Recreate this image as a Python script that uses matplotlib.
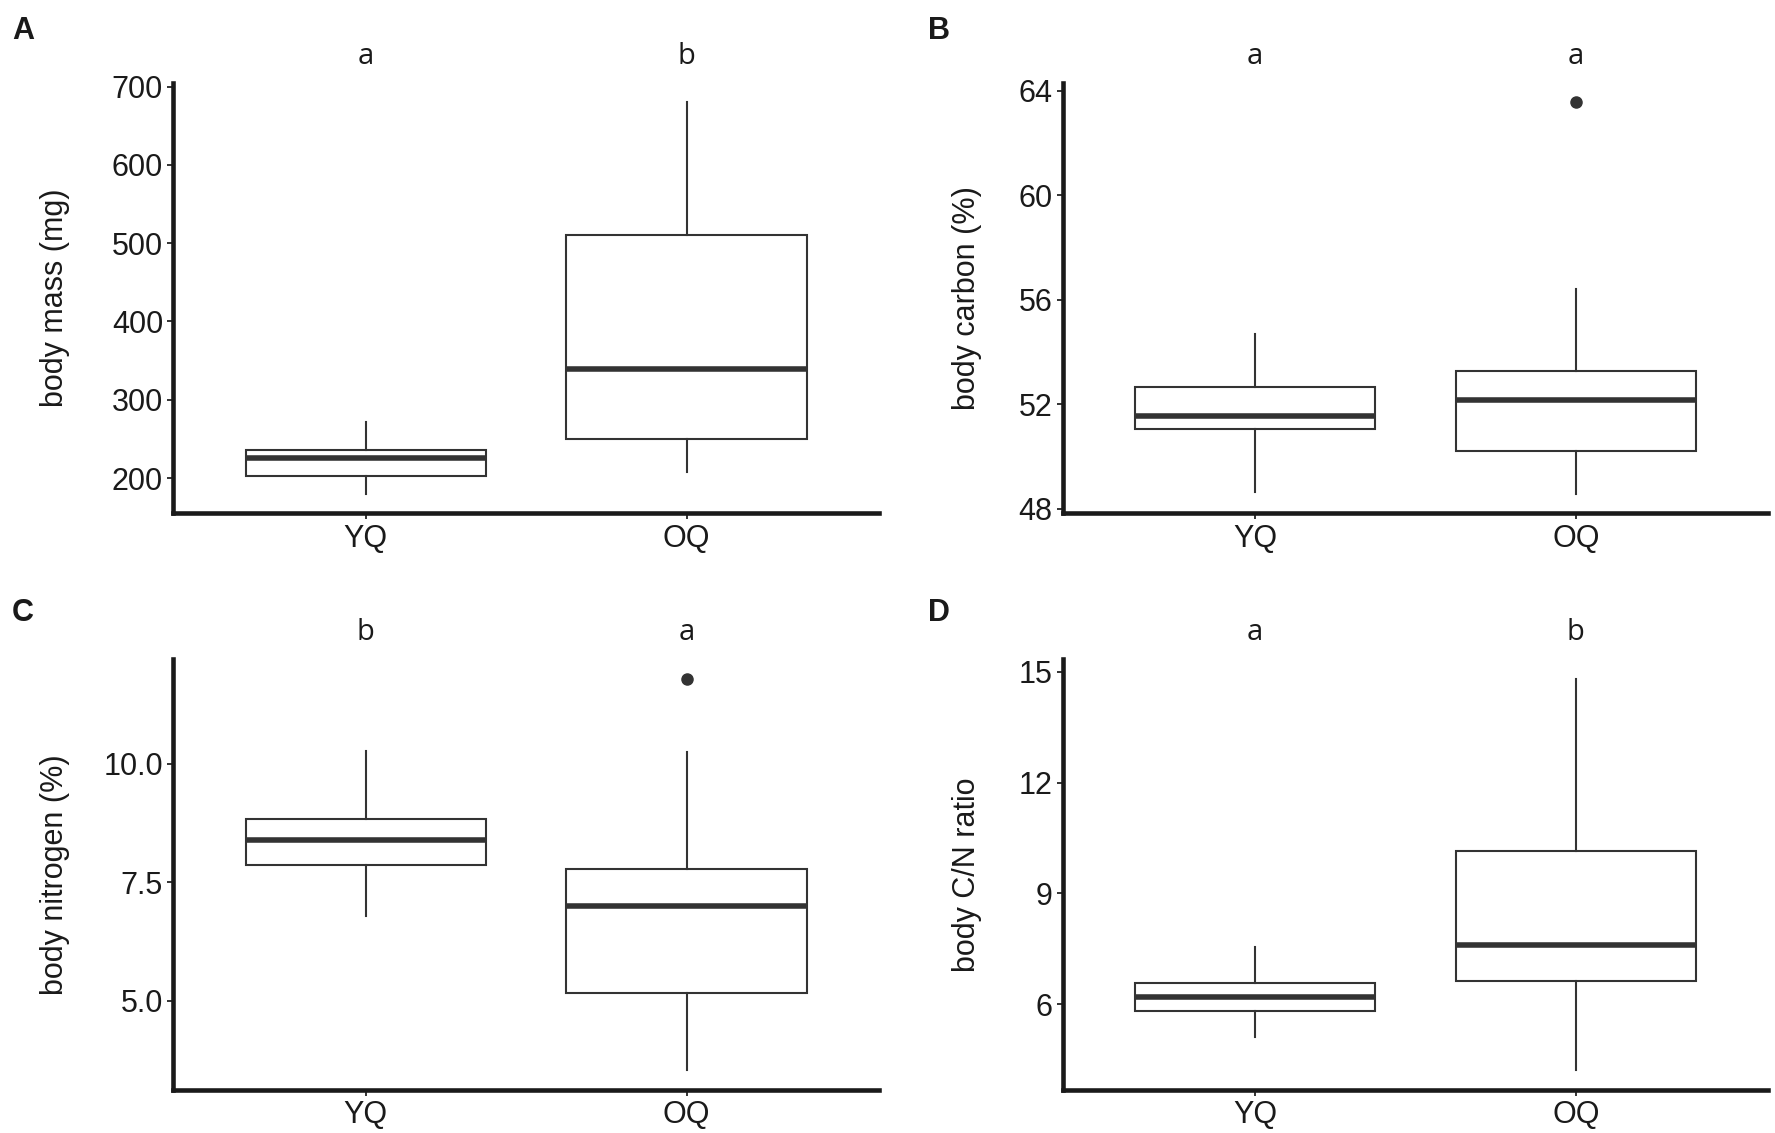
import matplotlib
matplotlib.use("Agg")
import matplotlib.pyplot as plt
from matplotlib.ticker import FormatStrFormatter
import matplotlib.transforms as mtransforms

groups = ["YQ", "OQ"]

# Panel A: body mass (mg)
mass_whislo = [180, 208]
mass_q1 = [203, 250]
mass_med = [225, 339]
mass_q3 = [236, 511]
mass_whishi = [272, 680]
mass_fliers = [[], []]
mass_letters = ["a", "b"]

# Panel B: body carbon (%)
carb_whislo = [48.66, 48.58]
carb_q1 = [51.05, 50.23]
carb_med = [51.56, 52.18]
carb_q3 = [52.66, 53.27]
carb_whishi = [54.67, 56.40]
carb_fliers = [[], [63.55]]
carb_letters = ["a", "a"]

# Panel C: body nitrogen (%)
nit_whislo = [6.79, 3.54]
nit_q1 = [7.87, 5.17]
nit_med = [8.40, 7.01]
nit_q3 = [8.84, 7.77]
nit_whishi = [10.27, 10.24]
nit_fliers = [[], [11.79]]
nit_letters = ["b", "a"]

# Panel D: body C/N ratio
cn_whislo = [5.12, 4.22]
cn_q1 = [5.82, 6.62]
cn_med = [6.19, 7.61]
cn_q3 = [6.59, 10.15]
cn_whishi = [7.56, 14.81]
cn_fliers = [[], []]
cn_letters = ["a", "b"]

panels = [
    dict(tag="A", ylabel="body mass (mg)", lo=mass_whislo, q1=mass_q1, med=mass_med,
         q3=mass_q3, hi=mass_whishi, fl=mass_fliers, let=mass_letters,
         ticks=[200, 300, 400, 500, 600, 700], fmt="%d"),
    dict(tag="B", ylabel="body carbon (%)", lo=carb_whislo, q1=carb_q1, med=carb_med,
         q3=carb_q3, hi=carb_whishi, fl=carb_fliers, let=carb_letters,
         ticks=[48, 52, 56, 60, 64], fmt="%d"),
    dict(tag="C", ylabel="body nitrogen (%)", lo=nit_whislo, q1=nit_q1, med=nit_med,
         q3=nit_q3, hi=nit_whishi, fl=nit_fliers, let=nit_letters,
         ticks=[5.0, 7.5, 10.0], fmt="%.1f"),
    dict(tag="D", ylabel="body C/N ratio", lo=cn_whislo, q1=cn_q1, med=cn_med,
         q3=cn_q3, hi=cn_whishi, fl=cn_fliers, let=cn_letters,
         ticks=[6, 9, 12, 15], fmt="%d"),
]

fig = plt.figure(figsize=(17.75, 11.33), dpi=100)
plt.rcParams['font.family'] = ['Liberation Sans', 'DejaVu Sans']

lefts = [0.0977, 0.5987, 0.0977, 0.5987]
bottoms = [0.547, 0.547, 0.0382, 0.0382]
w, h = 0.3975, 0.380
label_x = [-0.147, -0.115, -0.147, -0.115]
tag_pos = [(0.0068, 0.9726), (0.523, 0.9726), (0.0068, 0.459), (0.523, 0.459)]

dark = "#333333"
black = "#1a1a1a"

for i, p in enumerate(panels):
    ax = fig.add_axes([lefts[i], bottoms[i], w, h])
    stats = []
    for k, g in enumerate(groups):
        stats.append(dict(label=g, whislo=p["lo"][k], q1=p["q1"][k], med=p["med"][k],
                          q3=p["q3"][k], whishi=p["hi"][k], fliers=p["fl"][k]))
    ax.bxp(stats, positions=[1, 2], widths=0.75, showcaps=False, patch_artist=True,
           boxprops=dict(facecolor="white", edgecolor=dark, linewidth=1.5),
           whiskerprops=dict(color=dark, linewidth=1.5),
           medianprops=dict(color=dark, linewidth=4.0, solid_capstyle="butt"),
           flierprops=dict(marker="o", markerfacecolor=dark, markeredgecolor=dark,
                           markersize=8))
    # ggplot-like expansions
    allv = p["lo"] + p["hi"] + [v for f in p["fl"] for v in f]
    vmin, vmax = min(allv), max(allv)
    pad = 0.05 * (vmax - vmin)
    ax.set_ylim(vmin - pad, vmax + pad)
    ax.set_xlim(0.4, 2.6)
    ax.set_yticks(p["ticks"])
    ax.yaxis.set_major_formatter(FormatStrFormatter(p["fmt"]))
    ax.set_xticks([1, 2])
    ax.set_xticklabels(groups)
    for s in ["top", "right"]:
        ax.spines[s].set_visible(False)
    for s in ["left", "bottom"]:
        ax.spines[s].set_linewidth(3.3)
        ax.spines[s].set_color(black)
        ax.spines[s].set_capstyle("projecting")
    ax.tick_params(axis="both", length=4.5, width=1.4, color=dark, labelsize=22,
                   labelcolor=black, pad=3)
    ax.set_ylabel(p["ylabel"], fontsize=22, color=black)
    ax.yaxis.set_label_coords(label_x[i], 0.5)
    trans = mtransforms.blended_transform_factory(ax.transData, ax.transAxes)
    for k in range(2):
        ax.text(k + 1, 1.062, p["let"][k], transform=trans, ha="center", va="center",
                fontsize=21, color=black, family=["Open Sans", "DejaVu Sans"])
    fig.text(tag_pos[i][0], tag_pos[i][1], p["tag"], fontsize=22, fontweight="bold",
             ha="left", va="center", color=black)

fig.savefig("out.png", dpi=100, facecolor="white")
